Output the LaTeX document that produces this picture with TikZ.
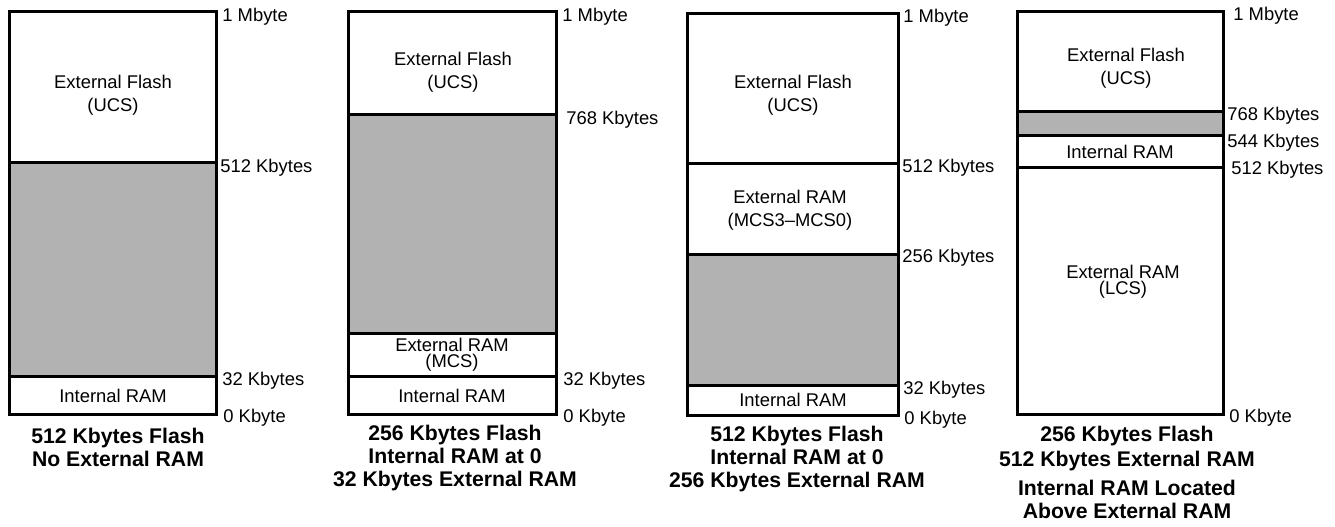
\documentclass[tikz,border=0pt]{standalone}
\usepackage{fontspec}
\setmainfont{Liberation Sans}
\usetikzlibrary{positioning}

\begin{document}
\begin{tikzpicture}[
  x=0.5pt, y=-0.5pt,
  region/.style={draw, line width=1.5pt},
  unused/.style={region, fill=black!30},
  lbl/.style={font=\fontsize{9.2}{11.5}\selectfont, align=center, inner sep=0pt},
  addr/.style={font=\fontsize{9.2}{11}\selectfont, anchor=base west, inner sep=0pt},
  caption/.style={font=\fontsize{10.6}{11.5}\selectfont\bfseries, align=center, inner sep=0pt},
  tight/.style={caption, anchor=base}
]
  \useasboundingbox (0,0) rectangle (1335,526);

  % Map 1: 512 Kbytes flash, no external RAM
  \draw[region] (9,11) rectangle (216,162);
  \draw[unused] (9,162) rectangle (216,376);
  \draw[region] (9,376) rectangle (216,414);
  \node[lbl] (flashA) at (113,95) {External Flash\\(UCS)};
  \node[lbl] (iramA) at (113,396) {Internal RAM};
  \node[addr] (topA) at (222,21) {1 Mbyte};
  \node[addr] (k512A) at (220,172) {512 Kbytes};
  \node[addr] (k32A) at (222,385) {32 Kbytes};
  \node[addr] (k0A) at (223,422) {0 Kbyte};
  \node[caption] (capA) at (118,447) {512 Kbytes Flash\\No External RAM};

  % Map 2: 256 Kbytes flash, 32 Kbytes external RAM
  \draw[region] (348,11) rectangle (556,114);
  \draw[unused] (348,114) rectangle (556,333);
  \draw[region] (348,333) rectangle (556,376);
  \draw[region] (348,376) rectangle (556,414);
  \node[lbl] (flashB) at (453,72) {External Flash\\(UCS)};
  \node[lbl] (xramB) at (452,355) {External RAM\\[-3.5pt](MCS)};
  \node[lbl] (iramB) at (452,396) {Internal RAM};
  \node[addr] (topB) at (562,21) {1 Mbyte};
  \node[addr] (k768B) at (566,124) {768 Kbytes};
  \node[addr] (k32B) at (563,385) {32 Kbytes};
  \node[addr] (k0B) at (563,422) {0 Kbyte};
  \node[caption] (capB) at (455,458.5) {256 Kbytes Flash\\Internal RAM at 0\\32 Kbytes External RAM};

  % Map 3: 512 Kbytes flash, 256 Kbytes external RAM
  \draw[region] (687,13) rectangle (898,163);
  \draw[region] (687,163) rectangle (898,254);
  \draw[unused] (687,254) rectangle (898,385);
  \draw[region] (687,385) rectangle (898,415);
  \node[lbl] (flashC) at (793,95) {External Flash\\(UCS)};
  \node[lbl] (xramC) at (790,210.5) {External RAM\\(MCS3–MCS0)};
  \node[lbl] (iramC) at (793,400) {Internal RAM};
  \node[addr] (topC) at (903,22) {1 Mbyte};
  \node[addr] (k512C) at (902,172) {512 Kbytes};
  \node[addr] (k256C) at (902,262) {256 Kbytes};
  \node[addr] (k32C) at (903,394) {32 Kbytes};
  \node[addr] (k0C) at (904,424) {0 Kbyte};
  \node[caption] (capC) at (797,459) {512 Kbytes Flash\\Internal RAM at 0\\256 Kbytes External RAM};

  % Map 4: internal RAM above external RAM
  \draw[region] (1017,11) rectangle (1223,111);
  \draw[unused] (1017,111) rectangle (1223,135);
  \draw[region] (1017,135) rectangle (1223,167);
  \draw[region] (1017,167) rectangle (1223,414);
  \node[lbl] (flashD) at (1126,68.5) {External Flash\\(UCS)};
  \node[lbl] (iramD) at (1120,152) {Internal RAM};
  \node[lbl] (xramD) at (1123,282) {External RAM\\[-3.5pt](LCS)};
  \node[addr] (topD) at (1233,20) {1 Mbyte};
  \node[addr] (k768D) at (1227,120) {768 Kbytes};
  \node[addr] (k544D) at (1227,147) {544 Kbytes};
  \node[addr] (k512D) at (1231,174) {512 Kbytes};
  \node[addr] (k0D) at (1229,422) {0 Kbyte};
  \node[caption, font=\fontsize{10.6}{12.5}\selectfont\bfseries] (capD) at (1127,448.5) {256 Kbytes Flash\\512 Kbytes External RAM};
  \node[tight] (noteD) at (1127,495) {Internal RAM Located};
  \node[tight] (noteD2) at (1127,518.5) {Above External RAM};
\end{tikzpicture}
\end{document}
